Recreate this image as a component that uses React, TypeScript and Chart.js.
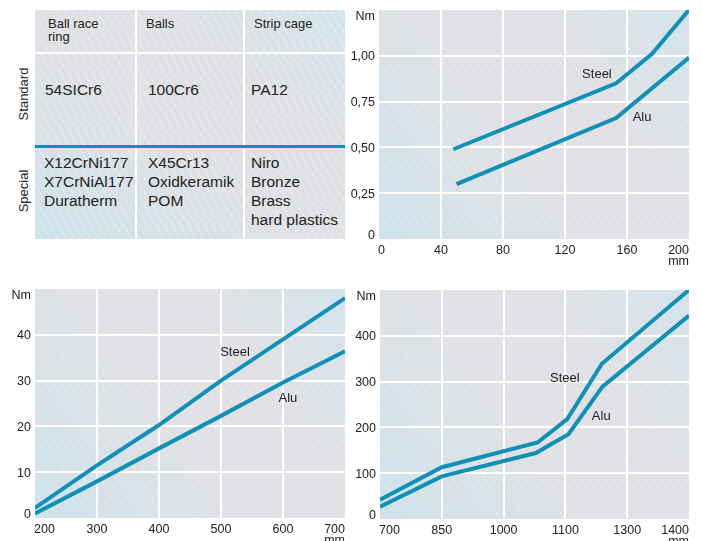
import React, { useEffect, useRef } from 'react';
import { Chart, registerables } from 'chart.js';

Chart.register(...registerables);

const LINE = '#1190b7';
const FONT = '"Liberation Sans", Arial, Helvetica, sans-serif';
const TEXT = '#222222';

// ---------- Table data ----------
const tableHeaders = ['Ball race\nring', 'Balls', 'Strip cage'];
const tableRowLabels = ['Standard', 'Special'];
const standardRow = ['54SICr6', '100Cr6', 'PA12'];
const specialRow = [
  'X12CrNi177\nX7CrNiAl177\nDuratherm',
  'X45Cr13\nOxidkeramik\nPOM',
  'Niro\nBronze\nBrass\nhard plastics',
];

// ---------- Top-right chart ----------
const trXTicks = [0, 40, 80, 120, 160, 200];
const trXLabels = ['0', '40', '80', '120', '160', '200'];
const trYTicks = [0, 0.25, 0.5, 0.75, 1.0, 1.25];
const trYLabels = ['0', '0,25', '0,50', '0,75', '1,00', 'Nm'];
const trSteelX = [48, 153, 176, 200];
const trSteelY = [0.49, 0.85, 1.01, 1.25];
const trAluX = [50, 153, 200];
const trAluY = [0.3, 0.66, 0.99];

// ---------- Bottom-left chart ----------
const blXTicks = [200, 300, 400, 500, 600, 700];
const blXLabels = ['200', '300', '400', '500', '600', '700'];
const blYTicks = [0, 10, 20, 30, 40, 50];
const blYLabels = ['0', '10', '20', '30', '40', 'Nm'];
const blSteelX = [200, 300, 400, 500, 600, 700];
const blSteelY = [2.2, 11.5, 20.3, 30, 39, 48];
const blAluX = [200, 300, 400, 500, 600, 700];
const blAluY = [1, 8, 15.2, 22.3, 29.6, 36.4];

// ---------- Bottom-right chart (evenly spaced category positions) ----------
const brXTicks = [0, 1, 2, 3, 4, 5];
const brXLabels = ['700', '850', '1000', '1100', '1300', '1400'];
const brYTicks = [0, 100, 200, 300, 400, 500];
const brYLabels = ['0', '100', '200', '300', '400', 'Nm'];
const brSteelX = [0, 1, 2.55, 3.03, 3.59, 5];
const brSteelY = [42, 113, 167, 218, 339, 500];
const brAluX = [0, 1, 2.52, 3.05, 3.6, 5];
const brAluY = [27, 93, 144, 185, 289, 444];

const UNIT = 'mm';
const SERIES_NAMES = ['Steel', 'Alu'];

type Series = { name: string; x: number[]; y: number[]; labelAt: [number, number] };
type Panel = {
  xTicks: number[];
  xLabels: string[];
  yTicks: number[];
  yLabels: string[];
  series: Series[];
  axisW: number;
  axisH: number;
  padTop: number;
  padRight: number;
};

const topRight: Panel = {
  xTicks: trXTicks, xLabels: trXLabels, yTicks: trYTicks, yLabels: trYLabels,
  series: [
    { name: SERIES_NAMES[0], x: trSteelX, y: trSteelY, labelAt: [140.6, 0.9] },
    { name: SERIES_NAMES[1], x: trAluX, y: trAluY, labelAt: [169.7, 0.663] },
  ],
  axisW: 34, axisH: 36, padTop: 10, padRight: 13,
};

const bottomLeft: Panel = {
  xTicks: blXTicks, xLabels: blXLabels, yTicks: blYTicks, yLabels: blYLabels,
  series: [
    { name: SERIES_NAMES[0], x: blSteelX, y: blSteelY, labelAt: [522.6, 36.2] },
    { name: SERIES_NAMES[1], x: blAluX, y: blAluY, labelAt: [608, 26.2] },
  ],
  axisW: 35, axisH: 23, padTop: 9, padRight: 7,
};

const bottomRight: Panel = {
  xTicks: brXTicks, xLabels: brXLabels, yTicks: brYTicks, yLabels: brYLabels,
  series: [
    { name: SERIES_NAMES[0], x: brSteelX, y: brSteelY, labelAt: [2.99, 307] },
    { name: SERIES_NAMES[1], x: brAluX, y: brAluY, labelAt: [3.58, 224] },
  ],
  axisW: 35, axisH: 22, padTop: 10, padRight: 13,
};

const bgPlugin = {
  id: 'panelBg',
  beforeDraw(chart: any) {
    const { ctx, chartArea } = chart;
    const { left, top, right, bottom } = chartArea;
    ctx.save();
    const g = ctx.createLinearGradient(left, bottom, right, top);
    g.addColorStop(0, '#cde2ec');
    g.addColorStop(0.4, '#dfe1e4');
    g.addColorStop(0.7, '#e0e1e4');
    g.addColorStop(1, '#d2e3ec');
    ctx.fillStyle = g;
    ctx.fillRect(left, top, right - left, bottom - top);
    ctx.beginPath();
    ctx.rect(left, top, right - left, bottom - top);
    ctx.clip();
    ctx.strokeStyle = 'rgba(255,255,255,0.35)';
    ctx.lineWidth = 0.8;
    const h = bottom - top;
    const dx = h * 0.577;
    ctx.beginPath();
    for (let x = left - dx; x < right; x += 8) {
      ctx.moveTo(x, top);
      ctx.lineTo(x + dx, bottom);
    }
    ctx.stroke();
    ctx.restore();
  },
};

function makeTextPlugin(p: Panel) {
  return {
    id: 'panelText',
    afterDraw(chart: any) {
      const { ctx, chartArea: a, scales } = chart;
      ctx.save();
      ctx.fillStyle = TEXT;
      ctx.font = `12.5px ${FONT}`;
      ctx.textAlign = 'left';
      ctx.textBaseline = 'alphabetic';
      p.yTicks.forEach((v, i) => {
        const label = p.yLabels[i];
        const y = scales.y.getPixelForValue(v);
        const cy = Math.min(Math.max(y, a.top + 5), a.bottom - 5);
        const w = ctx.measureText(label).width;
        ctx.fillText(label, a.left - 4 - w, cy + 4.5);
      });
      p.xTicks.forEach((v, i) => {
        const label = p.xLabels[i];
        const x = scales.x.getPixelForValue(v);
        const w = ctx.measureText(label).width;
        let lx = x - w / 2;
        lx = Math.max(lx, a.left - 1);
        lx = Math.min(lx, a.right - w);
        ctx.fillText(label, lx, a.bottom + 15);
      });
      const uw = ctx.measureText(UNIT).width;
      ctx.fillText(UNIT, a.right - uw, a.bottom + 25.5);
      ctx.font = `13px ${FONT}`;
      ctx.textAlign = 'center';
      ctx.textBaseline = 'middle';
      p.series.forEach((s) => {
        const x = scales.x.getPixelForValue(s.labelAt[0]);
        const y = scales.y.getPixelForValue(s.labelAt[1]);
        ctx.fillText(s.name, x, y);
      });
      ctx.restore();
    },
  };
}

function buildConfig(p: Panel): any {
  const xmin = p.xTicks[0];
  const xmax = p.xTicks[p.xTicks.length - 1];
  const ymin = p.yTicks[0];
  const ymax = p.yTicks[p.yTicks.length - 1];
  const gridColor = (lo: number, hi: number) => (c: any) =>
    c.tick && (c.tick.value === lo || c.tick.value === hi) ? 'rgba(0,0,0,0)' : '#ffffff';
  return {
    type: 'line',
    data: {
      datasets: p.series.map((s) => ({
        label: s.name,
        data: s.x.map((xv, i) => ({ x: xv, y: s.y[i] })),
        borderColor: LINE,
        backgroundColor: LINE,
        borderWidth: 4,
        pointRadius: 0,
        tension: 0,
        fill: false,
      })),
    },
    options: {
      animation: false,
      responsive: false,
      events: [],
      layout: { padding: { top: p.padTop, right: p.padRight, left: 0, bottom: 0 } },
      plugins: { legend: { display: false }, tooltip: { enabled: false } },
      scales: {
        x: {
          type: 'linear',
          min: xmin,
          max: xmax,
          afterBuildTicks: (s: any) => {
            s.ticks = p.xTicks.map((v) => ({ value: v }));
          },
          afterFit: (s: any) => {
            s.height = p.axisH;
          },
          ticks: { display: false },
          grid: { color: gridColor(xmin, xmax), lineWidth: 2, drawTicks: false },
          border: { display: false },
        },
        y: {
          type: 'linear',
          min: ymin,
          max: ymax,
          afterBuildTicks: (s: any) => {
            s.ticks = p.yTicks.map((v) => ({ value: v }));
          },
          afterFit: (s: any) => {
            s.width = p.axisW;
          },
          ticks: { display: false },
          grid: { color: gridColor(ymin, ymax), lineWidth: 2, drawTicks: false },
          border: { display: false },
        },
      },
    },
    plugins: [bgPlugin, makeTextPlugin(p)],
  };
}

function ChartPanel(props: { panel: Panel; left: number; top: number; width: number; height: number }) {
  const ref = useRef<HTMLCanvasElement>(null);
  useEffect(() => {
    const chart = new Chart(ref.current as HTMLCanvasElement, buildConfig(props.panel));
    return () => chart.destroy();
  }, []);
  return (
    <canvas
      ref={ref}
      width={props.width}
      height={props.height}
      style={{ position: 'absolute', left: props.left, top: props.top, width: props.width, height: props.height }}
    />
  );
}

const hatchBg =
  'repeating-linear-gradient(60deg, rgba(255,255,255,0) 0px, rgba(255,255,255,0) 6px, rgba(255,255,255,0.3) 6px, rgba(255,255,255,0.3) 7px), ' +
  'linear-gradient(to top right, #cde2ec 0%, #dfe1e4 40%, #e0e1e4 70%, #d2e3ec 100%)';

function MaterialTable() {
  const headLeft = [48, 146, 254];
  const bodyLeft = [45, 148, 251];
  const txt: React.CSSProperties = { position: 'absolute', color: TEXT, fontFamily: FONT, whiteSpace: 'pre' };
  return (
    <>
      <div style={{ position: 'absolute', left: 35, top: 10, width: 310, height: 229, background: hatchBg }} />
      {[135, 243].map((x) => (
        <div key={x} style={{ position: 'absolute', left: x, top: 10, width: 2, height: 229, background: '#ffffff' }} />
      ))}
      <div style={{ position: 'absolute', left: 35, top: 52, width: 310, height: 2, background: '#ffffff' }} />
      <div style={{ position: 'absolute', left: 35, top: 145, width: 310, height: 3, background: LINE }} />
      {tableHeaders.map((h, i) => (
        <div key={'h' + i} style={{ ...txt, left: headLeft[i], top: 16.5, fontSize: 13, lineHeight: '13px' }}>
          {h}
        </div>
      ))}
      {standardRow.map((t, i) => (
        <div key={'s' + i} style={{ ...txt, left: bodyLeft[i], top: 79.5, fontSize: 15.5, lineHeight: '19px' }}>
          {t}
        </div>
      ))}
      {specialRow.map((t, i) => (
        <div key={'p' + i} style={{ ...txt, left: bodyLeft[i] - (i === 0 ? 1 : 0), top: 152.5, fontSize: 15.5, lineHeight: '19px' }}>
          {t}
        </div>
      ))}
      {tableRowLabels.map((r, i) => (
        <div
          key={'r' + i}
          style={{
            ...txt,
            left: 23,
            top: i === 0 ? 94 : 191,
            fontSize: 13,
            lineHeight: '13px',
            transform: 'translate(-50%, -50%) rotate(-90deg)',
          }}
        >
          {r}
        </div>
      ))}
    </>
  );
}

export default function App() {
  return (
    <div style={{ position: 'absolute', left: 0, top: 0, width: 702, height: 541, overflow: 'hidden', background: '#ffffff' }}>
      <MaterialTable />
      <ChartPanel panel={topRight} left={345} top={0} width={357} height={275} />
      <ChartPanel panel={bottomLeft} left={0} top={280} width={352} height={261} />
      <ChartPanel panel={bottomRight} left={345} top={280} width={357} height={261} />
    </div>
  );
}
